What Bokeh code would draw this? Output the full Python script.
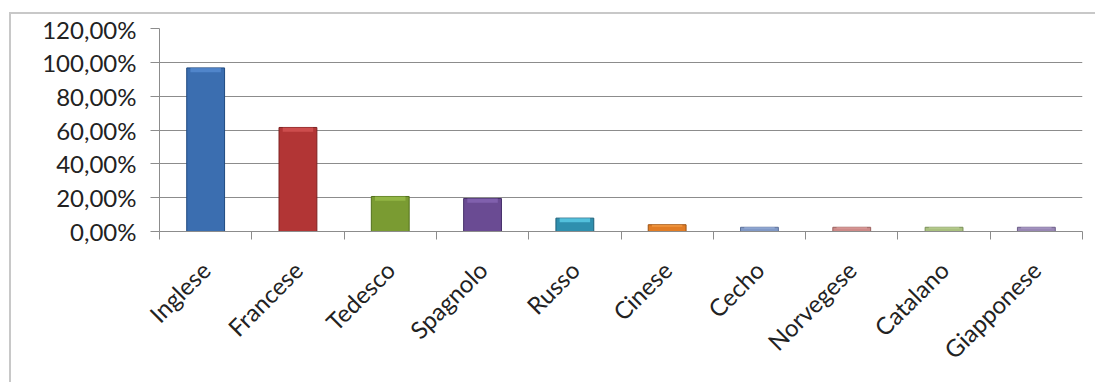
import math
from bokeh.plotting import figure
from bokeh.models import Range1d, FixedTicker, ColumnDataSource, CustomJSTickFormatter
from bokeh.embed import file_html
from bokeh.resources import INLINE

languages = ["Inglese", "Francese", "Tedesco", "Spagnolo", "Russo", "Cinese",
             "Cecho", "Norvegese", "Catalano", "Giapponese"]
shares = [0.967, 0.615, 0.207, 0.195, 0.079, 0.040, 0.025, 0.025, 0.025, 0.025]
fill_colors = ["#3b6eb0", "#b23535", "#7a9b32", "#6a4b93", "#2f8fae", "#e27d25",
               "#8199c6", "#cd8a88", "#a9c07f", "#9887b4"]
edge_colors = ["#1f4a80", "#7d2020", "#52701c", "#46306a", "#1a5f78", "#9c5314",
               "#5b6f99", "#9a5f5d", "#7a9058", "#6b5d88"]
light_colors = ["#5a8fd6", "#d85858", "#9dc24d", "#8a6ab8", "#62d4f0", "#f5a04a",
                "#a5bbe6", "#e8aaa8", "#c8dca0", "#b8a8d4"]
y_ticks = [0.0, 0.2, 0.4, 0.6, 0.8, 1.0, 1.2]

n = len(languages)
xs = [i + 0.5 for i in range(n)]
src = ColumnDataSource(dict(x=xs, top=shares, fill=fill_colors, edge=edge_colors,
                            light=light_colors,
                            htop=shares,
                            hbot=[s - min(0.025, s * 0.3) for s in shares]))

W, H = 1086, 370
p = figure(width=W, height=H, output_backend="svg", toolbar_location=None,
           x_range=Range1d(0, n), y_range=Range1d(0, 1.2),
           min_border_left=148, min_border_right=15, min_border_top=14, min_border_bottom=153)
p.styles = {"border-top": "2px solid #c8c8c8", "border-left": "2px solid #c8c8c8",
            "margin-left": "9px", "margin-top": "12px"}
p.outline_line_color = None
p.background_fill_color = "white"
p.border_fill_color = "white"

p.vbar(x="x", top="top", bottom=0, width=0.41, source=src,
       fill_color="fill", line_color="edge", line_width=1)
p.vbar(x="x", top="htop", bottom="hbot", width=0.33, source=src,
       fill_color="light", line_color=None, fill_alpha=0.7)

# y axis
yax = p.yaxis[0]
yax.ticker = FixedTicker(ticks=y_ticks)
yax.formatter = CustomJSTickFormatter(code="return (tick*100).toFixed(2).replace('.', ',') + '%';")
yax.axis_line_color = "#8c8c8c"
yax.major_tick_line_color = "#8c8c8c"
yax.major_tick_out = 9
yax.major_tick_in = 0
yax.minor_tick_line_color = None
yax.major_label_text_font = "Lato"
yax.major_label_text_font_size = "24px"
yax.major_label_text_color = "#222222"
yax.major_label_standoff = 14

# x axis
xax = p.xaxis[0]
xax.ticker = FixedTicker(ticks=xs, minor_ticks=list(range(n + 1)))
xax.major_label_overrides = {x: lab for x, lab in zip(xs, languages)}
xax.major_label_orientation = math.pi / 4
xax.major_label_text_font = "Lato"
xax.major_label_text_font_size = "24px"
xax.major_label_text_color = "#222222"
xax.major_label_standoff = 26
xax.axis_line_color = "#8c8c8c"
xax.major_tick_line_color = None
xax.minor_tick_line_color = "#8c8c8c"
xax.minor_tick_out = 8
xax.minor_tick_in = 0

p.xgrid.grid_line_color = None
p.ygrid.ticker = FixedTicker(ticks=y_ticks)
p.ygrid.grid_line_color = "#8c8c8c"
p.ygrid.grid_line_width = 1

open("out.html", "w").write(file_html(p, INLINE))
